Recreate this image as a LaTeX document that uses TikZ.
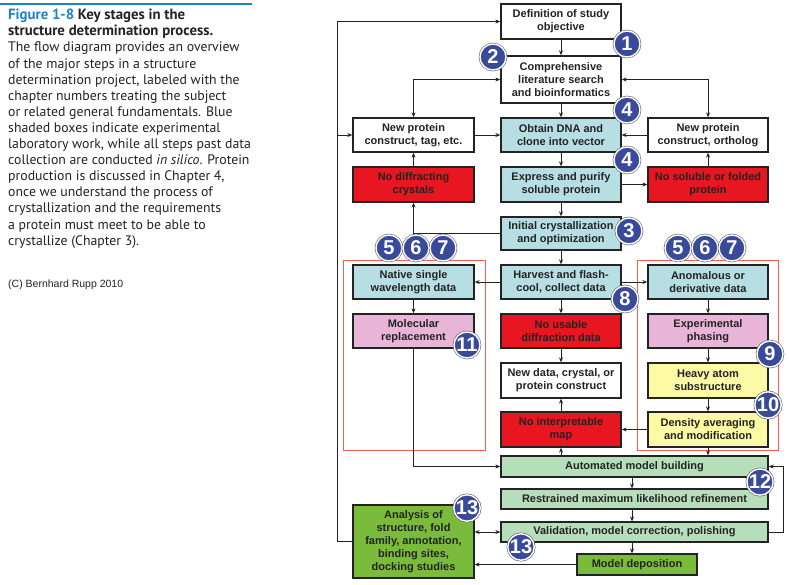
\documentclass[tikz,border=0pt]{standalone}
\usepackage{fontspec}
\setmainfont{Liberation Sans}
\newfontfamily\capfont{PT Sans}
\newfontfamily\diafont{Liberation Sans}
\usetikzlibrary{arrows.meta,calc}
\definecolor{lblue}{RGB}{183,222,226}
\definecolor{bred}{RGB}{232,22,32}
\definecolor{bpink}{RGB}{232,180,216}
\definecolor{byellow}{RGB}{252,250,165}
\definecolor{lgreen}{RGB}{183,222,186}
\definecolor{dgreen}{RGB}{122,187,60}
\definecolor{badgeblue}{RGB}{58,74,155}
\definecolor{framered}{RGB}{240,96,74}
\definecolor{capblue}{RGB}{30,130,200}
\definecolor{ink}{RGB}{35,35,35}
\begin{document}
\begin{tikzpicture}[x=1pt,y=-1pt,
  bx/.style={draw=ink,line width=1.3pt,align=center,inner sep=0pt,
    font=\diafont\bfseries\fontsize{11}{13}\selectfont,text=ink,
    minimum width=120pt,minimum height=34pt},
  whitebox/.style={bx,fill=white},
  bluebox/.style={bx,fill=lblue},
  redbox/.style={bx,fill=bred},
  pinkbox/.style={bx,fill=bpink},
  yellowbox/.style={bx,fill=byellow},
  greenbox/.style={bx,fill=lgreen,minimum width=267pt,minimum height=21pt},
  dgreenbox/.style={bx,fill=dgreen},
  arr/.style={draw=ink,line width=0.9pt,-{Stealth[length=5pt,width=4pt]}},
  darr/.style={draw=ink,line width=0.9pt,{Stealth[length=5pt,width=4pt]}-{Stealth[length=5pt,width=4pt]}},
  badge/.style={circle,minimum size=26pt,inner sep=0pt,fill=badgeblue,draw=white,line width=1.4pt,
    text=white,font=\diafont\bfseries\fontsize{20}{20}\selectfont,
    preaction={draw=ink!70,line width=2.6pt}},
  frame/.style={draw=framered,line width=1pt}
]
\useasboundingbox[fill=white] (0,0) rectangle (789,584);

% caption
\draw[capblue,line width=1.3pt] (0,4) -- (252,4);
\node[anchor=north west,inner sep=0pt,align=left,text=ink,
  font=\capfont\fontsize{13.8}{16.1}\selectfont] (cap) at (8,9)
  {{\fontsize{14.8}{16.1}\selectfont\bfseries\color{capblue}Figure 1-8} {\fontsize{14.8}{16.1}\selectfont\bfseries Key stages in the}\\
   {\fontsize{14.8}{16.1}\selectfont\bfseries structure determination process.}\\
   The flow diagram provides an overview\\
   of the major steps in a structure\\
   determination project, labeled with the\\
   chapter numbers treating the subject\\
   or related general fundamentals. Blue\\
   shaded boxes indicate experimental\\
   laboratory work, while all steps past data\\
   collection are conducted \textit{in silico}. Protein\\
   production is discussed in Chapter 4,\\
   once we understand the process of\\
   crystallization and the requirements\\
   a protein must meet to be able to\\
   crystallize (Chapter 3).};
\node[anchor=west,inner sep=0pt,text=ink,font=\diafont\fontsize{10.5}{12}\selectfont] (copy) at (8,285) {(C) Bernhard Rupp 2010};

% frames
\draw[frame] (343,260) rectangle (485,450);
\draw[frame] (637,260) rectangle (778,450);

% boxes
\node[whitebox,minimum height=35pt] (def) at (561,21.5) {Definition of study\\objective};
\node[whitebox,minimum height=47pt] (comp) at (561,79.5) {Comprehensive\\literature search\\and bioinformatics};
\node[whitebox,minimum width=121pt] (tag) at (413.5,135) {New protein\\construct, tag, etc.};
\node[bluebox] (dna) at (561,135) {Obtain DNA and\\clone into vector};
\node[whitebox] (orth) at (708,135) {New protein\\construct, ortholog};
\node[redbox,minimum width=121pt,minimum height=35pt] (nodiff) at (413.5,184.5) {No diffracting\\crystals};
\node[bluebox,minimum height=35pt] (expr) at (561,184.5) {Express and purify\\soluble protein};
\node[redbox,minimum height=35pt] (nosol) at (708,184.5) {No soluble or folded\\protein};
\node[bluebox,minimum height=33pt] (init) at (561,233.5) {Initial crystallization\\and optimization};
\node[bluebox,minimum width=121pt] (native) at (413.5,282) {Native single\\wavelength data};
\node[bluebox] (harvest) at (561,282) {Harvest and flash-\\cool, collect data};
\node[bluebox] (anom) at (708,282) {Anomalous or\\derivative data};
\node[pinkbox,minimum width=121pt] (molrep) at (413.5,331) {Molecular\\replacement};
\node[redbox] (nousable) at (561,331) {No usable\\diffraction data};
\node[pinkbox] (expph) at (708,331) {Experimental\\phasing};
\node[whitebox,minimum height=35pt] (newdata) at (561,380.5) {New data, crystal, or\\protein construct};
\node[yellowbox,minimum height=35pt] (heavy) at (708,380.5) {Heavy atom\\substructure};
\node[redbox,minimum height=35pt] (nointerp) at (561,429.5) {No interpretable\\map};
\node[yellowbox,minimum height=35pt] (density) at (708,429.5) {Density averaging\\and modification};
\node[greenbox] (auto) at (634.5,466.5) {Automated model building};
\node[greenbox,minimum height=20pt] (restr) at (634.5,499) {Restrained maximum likelihood refinement};
\node[greenbox,minimum height=20pt] (valid) at (634.5,532) {Validation, model correction, polishing};
\node[dgreenbox,minimum width=121pt,minimum height=73pt] (analysis) at (413.5,541.5) {Analysis of\\structure, fold\\family, annotation,\\binding sites,\\docking studies};
\node[dgreenbox,minimum height=21pt] (deposit) at (637,564.5) {Model deposition};

% connectors
\coordinate (lp) at (337,0);
\draw[arr] (def) -- (comp);
\draw[arr] (comp) -- (dna);
\draw[darr] (comp.west) -| (tag.north);
\draw[darr] (comp.east) -| (orth.north);
\draw[arr] (tag) -- (dna);
\draw[arr] (orth) -- (dna);
\draw[arr] (dna) -- (expr);
\draw[arr] (expr) -- (nosol);
\draw[arr] (nosol) -- (orth);
\draw[arr] (nodiff) -- (tag);
\draw[arr] (expr) -- (init);
\draw[arr] (init.west) -| (nodiff.south);
\draw[arr] (init) -- (harvest);
\draw[arr] (harvest) -- (native);
\draw[arr] (harvest) -- (anom);
\draw[arr] (native) -- (molrep);
\draw[arr] (harvest) -- (nousable);
\draw[arr] (nousable) -- (newdata);
\draw[arr] (nointerp) -- (newdata);
\draw[arr] (nointerp.south |- auto.north) -- (nointerp.south);
\draw[arr] (anom) -- (expph);
\draw[arr] (expph) -- (heavy);
\draw[arr] (heavy) -- (density);
\draw[arr] (density) -- (nointerp);
\draw[arr] (density.south) -- (density.south |- auto.north);
\draw[arr] (molrep.south) |- (auto.west);
\draw[arr] ([xshift=-2.5pt]auto.south) -- ([xshift=-2.5pt]restr.north);
\draw[arr] ([xshift=-2.5pt]restr.south) -- ([xshift=-2.5pt]valid.north);
\draw[arr] ([xshift=-2.5pt]valid.south) -- ([xshift=-2.5pt]valid.south |- deposit.north);
\draw[arr] (valid.east) -- ++(15,0) |- (auto.east);
\draw[darr] (valid.west -| analysis.east) -- (valid.west);
\draw[arr] (deposit.west) -- (deposit.west -| analysis.east);
\draw[arr] (analysis.west) -- (analysis.west -| lp) |- (def.west);
\draw[arr] (tag.west -| lp) -- (tag.west);

% badges
\node[badge] (b1) at (627,44) {1};
\node[badge] (b2) at (493,57) {2};
\node[badge] (b4a) at (627,110) {4};
\node[badge] (b4b) at (627,160) {4};
\node[badge] (b3) at (629,231) {3};
\node[badge] (b5l) at (389,248) {5};
\node[badge] (b6l) at (416,248) {6};
\node[badge] (b7l) at (443,248) {7};
\node[badge] (b5r) at (678,248) {5};
\node[badge] (b6r) at (705,248) {6};
\node[badge] (b7r) at (732,248) {7};
\node[badge] (b8) at (625,299) {8};
\node[badge] (b11) at (467,345) {11};
\node[badge] (b9) at (770,354) {9};
\node[badge] (b10) at (768,405) {10};
\node[badge] (b12) at (760,482) {12};
\node[badge] (b13a) at (467,508) {13};
\node[badge] (b13b) at (521,547) {13};
\end{tikzpicture}
\end{document}
